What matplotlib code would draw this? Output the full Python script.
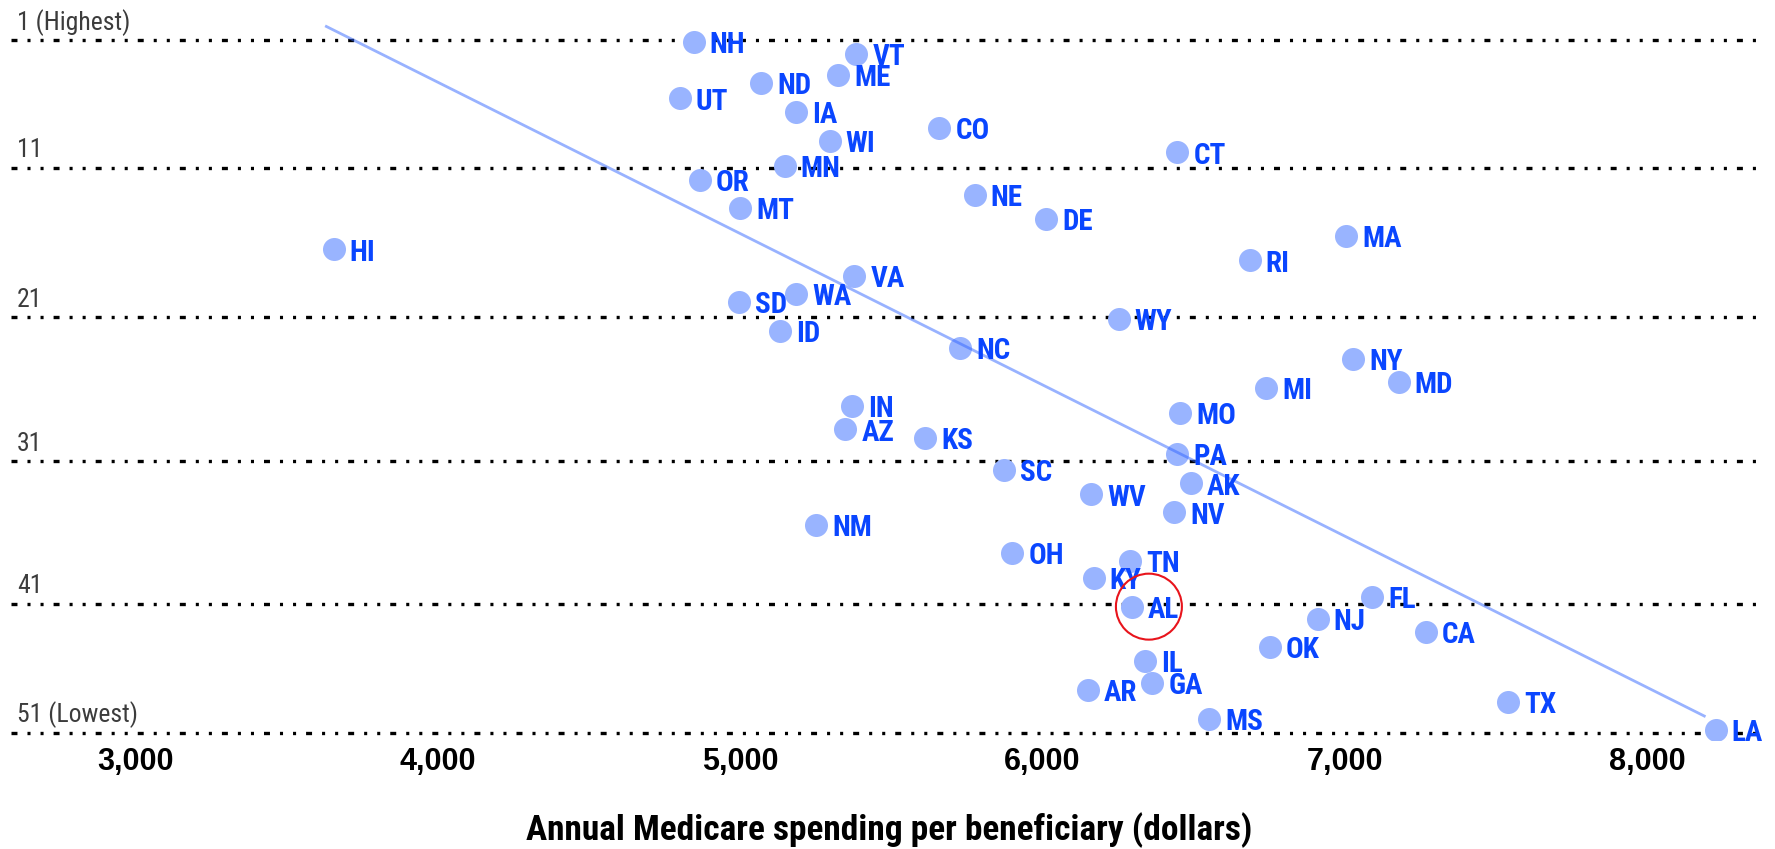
import matplotlib
matplotlib.use('Agg')
import matplotlib.pyplot as plt
from matplotlib import font_manager
from matplotlib.font_manager import FontProperties
from matplotlib.transforms import offset_copy

# state, spending per beneficiary (dollars), quality rank (1 = highest)
states = ['NH', 'VT', 'ME', 'ND', 'UT', 'IA', 'CO', 'WI', 'CT', 'MN',
          'OR', 'NE', 'MT', 'DE', 'MA', 'HI', 'RI', 'VA', 'WA', 'SD',
          'WY', 'ID', 'NC', 'NY', 'MD', 'MI', 'IN', 'MO', 'AZ', 'KS',
          'PA', 'SC', 'AK', 'WV', 'NV', 'NM', 'OH', 'TN', 'KY', 'FL',
          'AL', 'NJ', 'CA', 'OK', 'IL', 'GA', 'AR', 'TX', 'MS', 'LA']
spending = [4846, 5384, 5323, 5070, 4799, 5185, 5659, 5296, 6446, 5147,
            4865, 5775, 5000, 6013, 7004, 3654, 6685, 5377, 5184, 4995,
            6252, 5132, 5728, 7029, 7179, 6740, 5371, 6455, 5348, 5612,
            6446, 5874, 6490, 6162, 6435, 5252, 5900, 6289, 6169, 7092,
            6296, 6910, 7268, 6753, 6338, 6363, 6150, 7540, 6552, 8228]
ranks = [1.1, 2.0, 3.5, 4.1, 5.2, 6.2, 7.3, 8.3, 9.1, 10.1,
         11.1, 12.15, 13.1, 13.9, 15.15, 16.1, 16.9, 18.0, 19.3, 19.9,
         21.1, 22.0, 23.2, 24.0, 25.7, 26.1, 27.4, 27.9, 29.1, 29.7,
         30.9, 32.0, 33.0, 33.8, 35.1, 36.0, 38.0, 38.6, 39.85, 41.2,
         41.9, 42.8, 43.7, 44.8, 45.8, 47.4, 47.9, 48.8, 50.0, 50.8]

rank_lines = [1, 10.2, 21.0, 31.4, 41.7, 51]
rank_labels = ['1 (Highest)', '11', '21', '31', '41', '51 (Lowest)']
x_ticks = [3000, 4000, 5000, 6000, 7000, 8000]
trend_x = [3630, 8190]
trend_rank = [0.0, 49.8]
highlight = 'AL'


def narrow_font(bold):
    # look for a narrow / condensed face, fall back to Roboto
    fonts = font_manager.fontManager.ttflist
    want = 700 if bold else 400
    for pref in ['liberation sans narrow', 'roboto condensed', 'noto sans', 'dejavu sans',
                 'open sans']:
        for f in fonts:
            name = f.name.lower()
            cond = ('narrow' in name or 'condensed' in name or f.stretch == 'condensed'
                    or 'condensed' in f.fname.lower())
            if not cond or not name.startswith(pref.split(' condensed')[0]):
                continue
            w = f.weight if isinstance(f.weight, int) else (700 if f.weight == 'bold' else 400)
            if w == want and f.style == 'normal':
                return FontProperties(fname=f.fname), True
    return FontProperties(family='Roboto', weight='bold' if bold else 'normal'), False


reg_fp, found = narrow_font(False)
bold_fp, _ = narrow_font(True)
shrink = 1.0 if found else 0.85

plt.rcParams['lines.scale_dashes'] = False

fig = plt.figure(figsize=(17.75, 8.49), dpi=100)
ax = fig.add_axes([0, 1 - 740 / 849, 1, 740 / 849])
ax.set_xlim(2550, 8424)
ax.set_ylim(51.53, -1.91)
for s in ax.spines.values():
    s.set_visible(False)
ax.set_yticks([])
ax.set_xticks(x_ticks)
ax.set_xticklabels([f'{v:,}' for v in x_ticks], fontfamily='Liberation Sans',
                   fontweight='bold', fontsize=22)
ax.tick_params(axis='x', length=0, pad=5)

# dotted rank lines + labels
ytrans = ax.get_yaxis_transform()
for r, lab in zip(rank_lines, rank_labels):
    ax.axhline(r, xmin=11 / 1775, xmax=1759 / 1775, color='black', lw=2.4,
               dashes=(4.3, 7.2, 2.2, 7.2, 2.2, 7.2), zorder=1)
    ax.annotate(lab, (17 / 1775, r), xycoords=ytrans, xytext=(0, 7.5),
                textcoords='offset points', va='baseline', ha='left',
                fontproperties=reg_fp, fontsize=18.5 * shrink, color='#3c3c3c')

ax.scatter(spending, ranks, s=275, color='#99b4ff', linewidths=0, zorder=3)
ax.plot(trend_x, trend_rank, color='#3366ff', alpha=0.5, lw=2, zorder=4)

for st, x, r in zip(states, spending, ranks):
    ax.annotate(st, (x, r), xytext=(11.5, -8.0), textcoords='offset points',
                va='baseline', ha='left', color='#0a46ff', fontproperties=bold_fp,
                fontsize=21 * shrink, zorder=5)

# red circle around the highlighted state
i = states.index(highlight)
circ_trans = offset_copy(ax.transData, fig=fig, x=12.2, y=0, units='points')
ax.scatter([spending[i]], [ranks[i]], s=47.5 ** 2, facecolors='none',
           edgecolors='#e8141c', linewidths=1.5, transform=circ_trans, zorder=6)

fig.text(889 / 1775, 1 - 840 / 849, 'Annual Medicare spending per beneficiary (dollars)',
         ha='center', va='baseline', fontproperties=bold_fp, fontsize=25.5 * shrink)

fig.savefig('out.png', dpi=100)
